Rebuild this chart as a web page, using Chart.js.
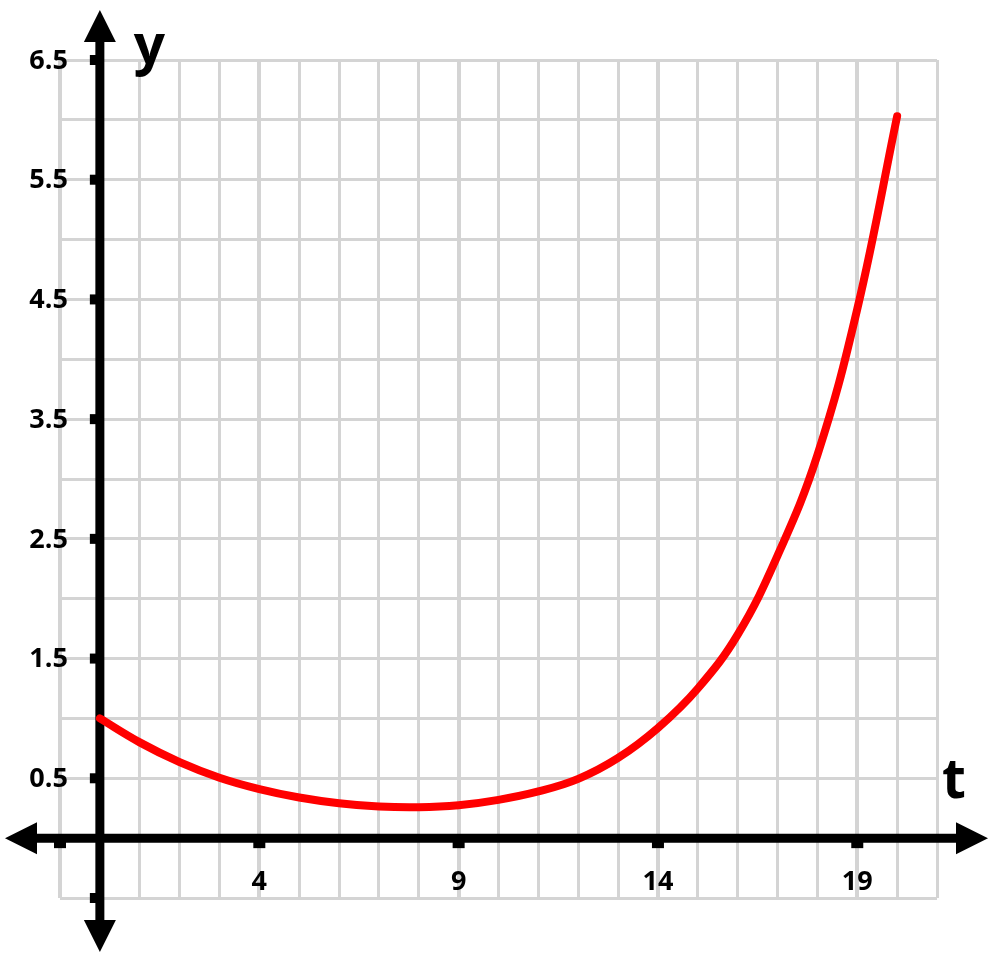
<!DOCTYPE html>
<html>
<head>
<meta charset="utf-8">
<script src="https://cdn.jsdelivr.net/npm/chart.js@4"></script>
<style>
  body { margin: 0; background: #fff; }
  #wrap { width: 1000px; height: 960px; }
</style>
</head>
<body>
<div id="wrap"><canvas id="graph"></canvas></div>
<script>
// values, one per whole t
const tValues = [0, 1, 2, 3, 4, 5, 6, 7, 8, 9, 10, 11, 12, 13, 14, 15, 16, 17, 18, 19, 20];
const yValues = [1.0, 0.8, 0.635, 0.505, 0.41, 0.34, 0.292, 0.264, 0.258, 0.275, 0.32,
                 0.39, 0.495, 0.67, 0.92, 1.25, 1.7, 2.36, 3.2, 4.42, 6.03];

const xTickValues = [-1, 4, 9, 14, 19];
const xTickLabels = ['', '4', '9', '14', '19'];
const yTickValues = [-0.5, 0.5, 1.5, 2.5, 3.5, 4.5, 5.5, 6.5];
const yTickLabels = ['', '0.5', '1.5', '2.5', '3.5', '4.5', '5.5', '6.5'];

const points = tValues.map((t, i) => ({ x: t, y: yValues[i] }));

// black axes with arrows, small tick marks and labels next to the axes
const axesPlugin = {
  id: 'axes',
  beforeDatasetsDraw(chart) {
    const ctx = chart.ctx;
    const xs = chart.scales.x, ys = chart.scales.y;
    const area = chart.chartArea;
    const x0 = xs.getPixelForValue(0);
    const y0 = ys.getPixelForValue(0);

    ctx.save();
    ctx.fillStyle = '#000';
    ctx.strokeStyle = '#000';
    ctx.lineWidth = 9;

    ctx.beginPath();
    ctx.moveTo(x0, area.top - 20);
    ctx.lineTo(x0, area.bottom + 24);
    ctx.stroke();

    ctx.beginPath();
    ctx.moveTo(area.left - 25, y0);
    ctx.lineTo(area.right + 21, y0);
    ctx.stroke();

    function arrow(tipX, tipY, dx, dy) {
      const len = 32, half = 16;
      const bx = tipX - dx * len, by = tipY - dy * len;
      ctx.beginPath();
      ctx.moveTo(tipX, tipY);
      ctx.lineTo(bx - dy * half, by + dx * half);
      ctx.lineTo(bx + dy * half, by - dx * half);
      ctx.closePath();
      ctx.fill();
    }
    arrow(x0, area.top - 50, 0, -1);
    arrow(x0, area.bottom + 54, 0, 1);
    arrow(area.left - 55, y0, -1, 0);
    arrow(area.right + 51, y0, 1, 0);

    ctx.font = 'bold 27px "Open Sans"';
    ctx.textAlign = 'right';
    ctx.textBaseline = 'middle';
    yTickValues.forEach((v, i) => {
      const py = ys.getPixelForValue(v);
      ctx.fillRect(x0 - 10, py - 5, 7, 10);
      if (yTickLabels[i]) ctx.fillText(yTickLabels[i], x0 - 32, py + 1);
    });

    ctx.textAlign = 'center';
    xTickValues.forEach((v, i) => {
      const px = xs.getPixelForValue(v);
      ctx.fillRect(px - 6, y0 + 3, 12, 7);
      if (xTickLabels[i]) ctx.fillText(xTickLabels[i], px, y0 + 44);
    });

    ctx.font = 'bold 55px "Open Sans"';
    ctx.textAlign = 'left';
    ctx.textBaseline = 'alphabetic';
    ctx.fillText('y', x0 + 34, area.top + 4);
    ctx.fillText('t', area.right + 5, y0 - 40);
    ctx.restore();
  }
};

new Chart(document.getElementById('graph'), {
  type: 'line',
  data: {
    datasets: [{
      data: points,
      borderColor: '#ff0000',
      borderWidth: 8,
      borderCapStyle: 'round',
      borderJoinStyle: 'round',
      pointRadius: 0,
      tension: 0.4,
      fill: false
    }]
  },
  options: {
    responsive: true,
    maintainAspectRatio: false,
    animation: false,
    layout: { padding: { left: 60, right: 63, top: 60, bottom: 62 } },
    plugins: { legend: { display: false }, tooltip: { enabled: false } },
    scales: {
      x: {
        type: 'linear',
        min: -1,
        max: 21,
        border: { display: false },
        ticks: { display: false, stepSize: 1 },
        grid: {
          color: '#d4d4d4',
          lineWidth: c => (((c.tick.value % 5) + 5) % 5 === 4 ? 4 : 3),
          drawTicks: false
        }
      },
      y: {
        type: 'linear',
        min: -0.5,
        max: 6.5,
        border: { display: false },
        ticks: { display: false, stepSize: 0.5 },
        grid: { color: '#d4d4d4', lineWidth: 3, drawTicks: false }
      }
    }
  },
  plugins: [axesPlugin]
});
</script>
</body>
</html>
